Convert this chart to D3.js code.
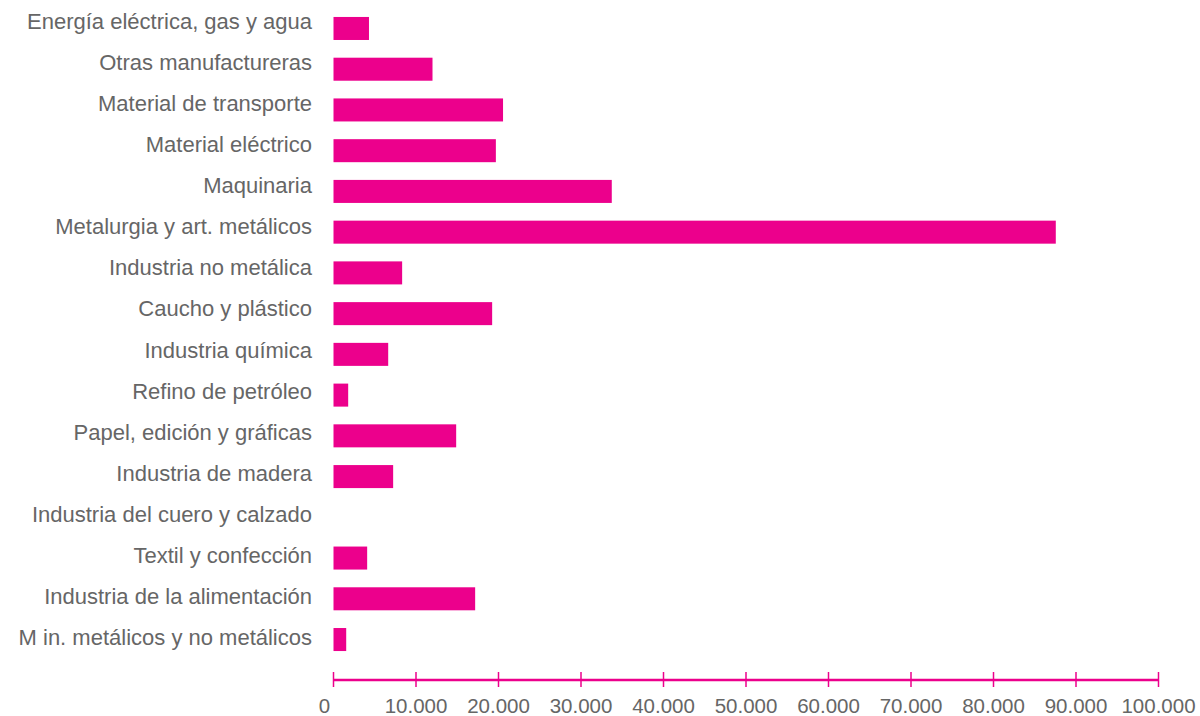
<!DOCTYPE html>
<html lang="es">
<head>
<meta charset="UTF-8">
<title>Industria</title>
<script src="https://cdnjs.cloudflare.com/ajax/libs/d3/7.8.5/d3.min.js"></script>
<style>
  body { margin: 0; background: #fff; }
  svg text { font-family: "Liberation Sans", Arial, sans-serif; font-weight: normal; fill: #666; }
</style>
</head>
<body>
<svg id="chart" width="1200" height="716"></svg>
<script>
// sectores, de arriba a abajo
const categories = [
  "Energía eléctrica, gas y agua",
  "Otras manufactureras",
  "Material de transporte",
  "Material eléctrico",
  "Maquinaria",
  "Metalurgia y art. metálicos",
  "Industria no metálica",
  "Caucho y plástico",
  "Industria química",
  "Refino de petróleo",
  "Papel, edición y gráficas",
  "Industria de madera",
  "Industria del cuero y calzado",
  "Textil y confección",
  "Industria de la alimentación",
  "M in. metálicos y no metálicos"
];
const values = [4300, 12000, 20550, 19680, 33730, 87550, 8320, 19230, 6630, 1780, 14870, 7230, 0, 4080, 17170, 1540];
const xTicks = [0, 10000, 20000, 30000, 40000, 50000, 60000, 70000, 80000, 90000, 100000];

const pink = "#ec008c";
const svg = d3.select("#chart");

const x = d3.scaleLinear().domain([0, 100000]).range([333.5, 1158.5]);
const y = d3.scaleBand().domain(categories).range([8, 660]).paddingInner(0.435).paddingOuter(0.22);
// las etiquetas van algo más espaciadas que las barras
const yLabel = d3.scalePoint().domain(categories).range([29, 645]);

svg.selectAll("rect.bar")
  .data(values)
  .join("rect")
  .attr("class", "bar")
  .attr("x", x(0))
  .attr("y", (d, i) => y(categories[i]))
  .attr("width", d => x(d) - x(0))
  .attr("height", y.bandwidth())
  .attr("fill", pink);

// etiquetas de categorías
svg.selectAll("text.cat")
  .data(categories)
  .join("text")
  .attr("class", "cat")
  .attr("x", 312)
  .attr("y", d => yLabel(d))
  .attr("text-anchor", "end")
  .style("font-size", "22px")
  .text(d => d);

// eje x
const fmt = d3.formatLocale({ decimal: ",", thousands: ".", grouping: [3] }).format(",d");
const axisY = 680;
const axis = svg.append("g");
axis.append("line")
  .attr("x1", x(0)).attr("x2", x(100000))
  .attr("y1", axisY).attr("y2", axisY)
  .attr("stroke", pink).attr("stroke-width", 2.5);
axis.selectAll("line.tick")
  .data(xTicks)
  .join("line")
  .attr("class", "tick")
  .attr("x1", d => x(d)).attr("x2", d => x(d))
  .attr("y1", axisY - 8).attr("y2", axisY + 7)
  .attr("stroke", pink).attr("stroke-width", 1.5);
axis.selectAll("text.tl")
  .data(xTicks)
  .join("text")
  .attr("class", "tl")
  .attr("x", d => d === 0 ? x(d) - 9 : x(d))
  .attr("y", 713)
  .attr("text-anchor", "middle")
  .style("font-size", "20.5px")
  .text(d => fmt(d));
</script>
</body>
</html>
